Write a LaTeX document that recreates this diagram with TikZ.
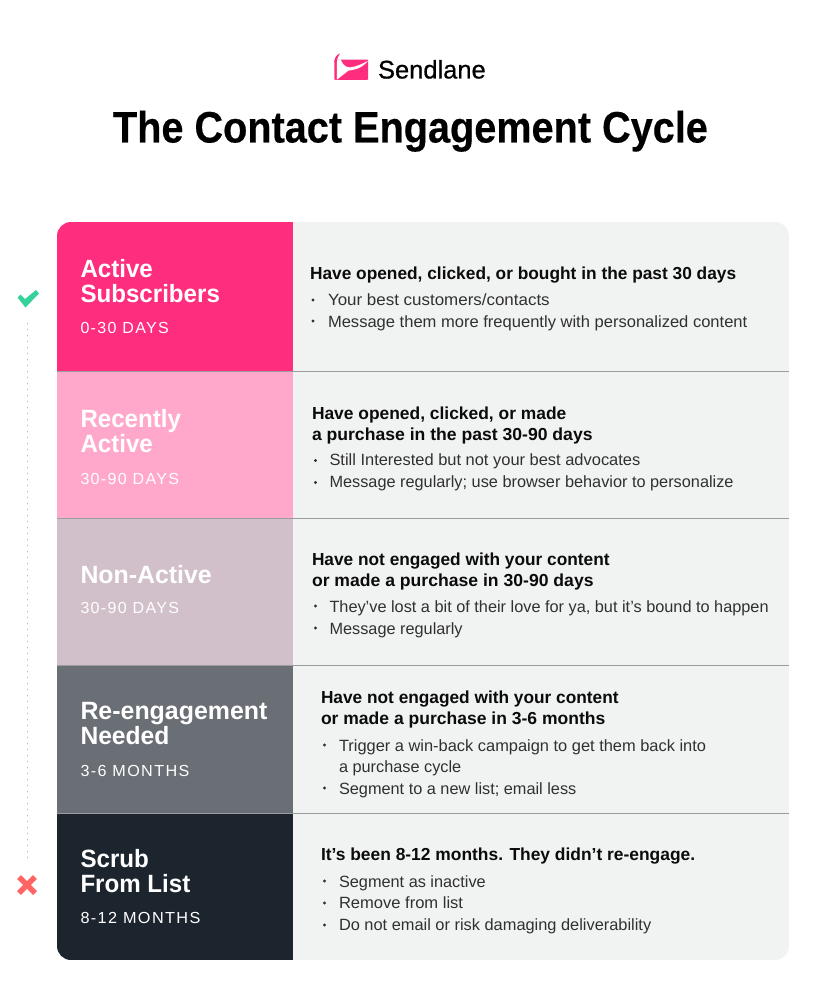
\documentclass[tikz,border=0pt]{standalone}
\usepackage{fontspec}
\setmainfont{Liberation Sans}
\newfontfamily\spaced[LetterSpace=8.5]{Liberation Sans}
\newfontfamily\titlefont[FakeStretch=0.903,FakeBold=0.3]{Liberation Sans Bold}
\newfontfamily\headfont[FakeStretch=0.965]{Liberation Sans Bold}
\newfontfamily\brandfont[FakeBold=0.7]{Liberation Sans}
\definecolor{pinkA}{HTML}{FF2D7E}
\definecolor{pinkB}{HTML}{FFA8CB}
\definecolor{mauve}{HTML}{D1C0CA}
\definecolor{slate}{HTML}{6A6E75}
\definecolor{navy}{HTML}{1C252E}
\definecolor{panel}{HTML}{F1F3F2}
\definecolor{rulegray}{HTML}{9A9C9E}
\definecolor{okgreen}{HTML}{35D39A}
\definecolor{nored}{HTML}{FF6565}
\definecolor{ink}{HTML}{0B0B0B}
\definecolor{body}{HTML}{303030}
\tikzset{
  txt/.style={anchor=base west,inner sep=0pt,outer sep=0pt},
  heading/.style={txt,font=\fontsize{25}{25}\headfont,text=white},
  days/.style={txt,font=\fontsize{16}{16}\spaced,text=white},
  lead/.style={txt,font=\fontsize{17.4}{17.4}\selectfont\bfseries,text=ink},
  item/.style={txt,font=\fontsize{16.3}{16.3}\selectfont,text=body},
  dot/.style={circle,fill=body,inner sep=0pt,minimum size=3.4pt},
}
\newcommand{\bul}[3]{\node[dot] (#3) at (#1,#2-5) {};}
\newcommand{\sx}[2]{\scalebox{#1}[1]{#2}}
\begin{document}
\begin{tikzpicture}[x=1pt,y=-1pt]
\useasboundingbox (0,0) rectangle (820,1000);
\fill[white] (0,0) rectangle (820,1000);
% logo
\fill[pinkA,rounded corners=0.8pt] (334.4,59.6) rectangle (368.2,79.8);
\fill[pinkA] (334.4,62) .. controls (334.4,58) and (336,55) .. (340,53.5)
  .. controls (338,56) and (336.8,59) .. (336.9,63) -- cycle;
\fill[white] (336.8,79.8) -- (336.8,63) .. controls (336.8,61.5) and (337,60.5) .. (337.4,59.4)
  -- (340.7,59.4) .. controls (342,63) and (344.5,67.5) .. (350,67.4)
  .. controls (356,67) and (363,63.5) .. (368.3,60.6)
  .. controls (365,64.5) and (361,67.5) .. (357,68.8)
  .. controls (354,69.8) and (351,70.3) .. (348.3,70.7) -- cycle;
\node[txt,font=\fontsize{25.5}{25.5}\brandfont,text=black] (brand) at (378,78.5) {Sendlane};
\node[txt,font=\fontsize{44}{44}\titlefont,text=black] (title) at (113,142.5) {\sx{0.998}{The Contact Engagement Cycle}};
% panels
\begin{scope}
\clip[rounded corners=14pt] (57,222) rectangle (789,960);
\fill[panel] (293,222) rectangle (789,960);
\fill[pinkA] (57,222) rectangle (293,371);
\fill[pinkB] (57,371) rectangle (293,518);
\fill[mauve] (57,518) rectangle (293,665);
\fill[slate] (57,665) rectangle (293,813);
\fill[navy] (57,813) rectangle (293,960);
\foreach \yy in {371,518,665,813} \draw[rulegray,line width=0.9pt] (57,\yy) -- (789,\yy);
\end{scope}
% side marks
\fill[okgreen] (17.5,297.5) -- (20.5,294.5) -- (25,299) -- (36,290) -- (39,293.5) -- (25.5,307.5) -- cycle;
\draw[rulegray!70,line width=0.9pt,line cap=round,dash pattern=on 0.9pt off 5.1pt] (27,323) -- (27,858);
\draw[nored,line width=5.5pt] (19,877) -- (35,893) (35,877) -- (19,893);
% left labels
\node[heading] (a1) at (80.5,277) {Active};
\node[heading] (a2) at (80.5,302) {Subscribers};
\node[days] (a3) at (80.5,333) {0-30 DAYS};
\node[heading] (b1) at (80.5,427) {Recently};
\node[heading] (b2) at (80.5,452) {Active};
\node[days] (b3) at (80.5,484) {30-90 DAYS};
\node[heading] (c1) at (80.5,583) {\sx{1.03}{Non-Active}};
\node[days] (c3) at (80.5,613) {30-90 DAYS};
\node[heading] (d1) at (80.5,719) {\sx{1.033}{Re-engagement}};
\node[heading] (d2) at (80.5,744) {\sx{1.02}{Needed}};
\node[days] (d3) at (80.5,776) {\sx{1.01}{3-6 MONTHS}};
\node[heading] (e1) at (80.5,867) {Scrub};
\node[heading] (e2) at (80.5,892) {From List};
\node[days] (e3) at (80.5,923) {\sx{1.016}{8-12 MONTHS}};
% right: row 1
\node[lead] (r1a) at (310,279) {\sx{0.995}{Have opened, clicked, or bought in the past 30 days}};
\bul{313}{305}{r1bd}\node[item] (r1b) at (328,305) {\sx{1.04}{Your best customers/contacts}};
\bul{313}{326}{r1cd}\node[item] (r1c) at (328,327.5) {\sx{1.015}{Message them more frequently with personalized content}};
% row 2
\node[lead] (r2a) at (312,419) {Have opened, clicked, or made};
\node[lead] (r2b) at (312,440) {\sx{1.011}{a purchase in the past 30-90 days}};
\bul{315.5}{465.5}{r2cd}\node[item] (r2c) at (329.5,465.5) {\sx{1.009}{Still Interested but not your best advocates}};
\bul{315.5}{487.5}{r2dd}\node[item] (r2d) at (329.5,487.5) {Message regularly; use browser behavior to personalize};
% row 3
\node[lead] (r3a) at (312,565) {\sx{0.993}{Have not engaged with your content}};
\node[lead] (r3b) at (312,586) {\sx{1.011}{or made a purchase in 30-90 days}};
\bul{315.5}{611}{r3cd}\node[item] (r3c) at (329.5,612) {They’ve lost a bit of their love for ya, but it’s bound to happen};
\bul{315.5}{633}{r3dd}\node[item] (r3d) at (329.5,634) {Message regularly};
% row 4
\node[lead] (r4a) at (321,703) {\sx{0.993}{Have not engaged with your content}};
\node[lead] (r4b) at (321,724) {\sx{1.007}{or made a purchase in 3-6 months}};
\bul{324.5}{750}{r4cd}\node[item] (r4c) at (339,751) {\sx{1.007}{Trigger a win-back campaign to get them back into}};
\node[item] (r4d) at (339,772) {a purchase cycle};
\bul{324.5}{793}{r4ed}\node[item] (r4e) at (339,794) {Segment to a new list; email less};
% row 5
\node[lead] (r5a) at (321,860) {It’s been 8-12 months. They didn’t re-engage.};
\bul{324.5}{886}{r5bd}\node[item] (r5b) at (339,887) {Segment as inactive};
\bul{324.5}{908}{r5cd}\node[item] (r5c) at (339,908) {\sx{1.015}{Remove from list}};
\bul{324.5}{930}{r5dd}\node[item] (r5d) at (339,930) {\sx{1.005}{Do not email or risk damaging deliverability}};
\end{tikzpicture}
\end{document}
